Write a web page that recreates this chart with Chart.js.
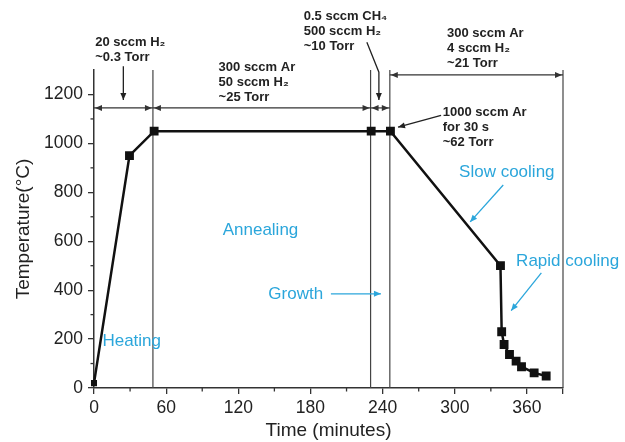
<!DOCTYPE html>
<html>
<head>
<meta charset="utf-8">
<script src="https://cdn.jsdelivr.net/npm/chart.js@4.4.0/dist/chart.umd.min.js"></script>
<style>
html, body { margin: 0; padding: 0; background: #fff; }
#caixa { width: 625px; height: 442px; }
</style>
</head>
<body>
<div id="caixa"><canvas id="perfil_temperatura"></canvas></div>
<script>
/* Perfil de temperatura do processo (tempo em minutos x temperatura em °C) */

const tempo_minutos = [0, 29.5, 50, 230.5, 246.5, 338, 339, 341, 345.5, 351, 355.5, 366, 376];
const temperatura_c = [20, 950, 1050, 1050, 1050, 500, 230, 178, 137, 110, 87, 62, 49];

const ticks_x_maiores = [0, 60, 120, 180, 240, 300, 360, 390];
const ticks_x_menores = [30, 90, 150, 210, 270, 330];
const ticks_y_maiores = [0, 200, 400, 600, 800, 1000, 1200];
const ticks_y_menores = [100, 300, 500, 700, 900, 1100];

const limites_etapas = [49, 230, 246, 390];

const cor_texto = '#222';
const cor_ciano = '#2ba6db';

/* anotações em coordenadas de dados */
const cotas = [
    { x0: 0, x1: 49, y: 1145 },
    { x0: 49, x1: 230, y: 1145 },
    { x0: 230, x1: 246, y: 1145 },
    { x0: 246, x1: 390, y: 1280 },
];

const textos_pretos = [
    { linhas: ['20 sccm H₂', '~0.3 Torr'], x: 1, y: 1413 },
    { linhas: ['300 sccm Ar', '50 sccm H₂', '~25 Torr'], x: 103.6, y: 1311 },
    { linhas: ['0.5 sccm CH₄', '500 sccm H₂', '~10 Torr'], x: 174.4, y: 1518 },
    { linhas: ['300 sccm Ar', '4 sccm H₂', '~21 Torr'], x: 293.6, y: 1450 },
    { linhas: ['1000 sccm Ar', 'for 30 s', '~62 Torr'], x: 290, y: 1126 },
];

const textos_ciano = [
    { texto: 'Heating', x: 7, y: 190 },
    { texto: 'Annealing', x: 107, y: 646 },
    { texto: 'Growth', x: 145, y: 385 },
    { texto: 'Slow cooling', x: 303.6, y: 883 },
    { texto: 'Rapid cooling', x: 351, y: 516 },
];

const setas_pretas = [
    [[24.4, 1315], [24.4, 1177]],
    [[226.9, 1413], [236.9, 1291], [236.9, 1177]],
    [[288.6, 1115], [252.8, 1066]],
];

const setas_ciano = [
    [[197, 385], [238.6, 385]],
    [[340.3, 830], [312.8, 679]],
    [[372, 471], [346.9, 316]],
];

function seta(ctx, pts, cor) {
    ctx.save();
    ctx.strokeStyle = cor;
    ctx.fillStyle = cor;
    ctx.lineWidth = 1.3;
    ctx.beginPath();
    ctx.moveTo(pts[0][0], pts[0][1]);
    for (let i = 1; i < pts.length; i++) ctx.lineTo(pts[i][0], pts[i][1]);
    ctx.stroke();
    const [ax, ay] = pts[pts.length - 2];
    const [bx, by] = pts[pts.length - 1];
    ponta(ctx, ax, ay, bx, by);
    ctx.restore();
}

function ponta(ctx, ax, ay, bx, by) {
    const ang = Math.atan2(by - ay, bx - ax);
    const c = 7, l = 3;
    ctx.beginPath();
    ctx.moveTo(bx, by);
    ctx.lineTo(bx - c * Math.cos(ang) + l * Math.sin(ang), by - c * Math.sin(ang) - l * Math.cos(ang));
    ctx.lineTo(bx - c * Math.cos(ang) - l * Math.sin(ang), by - c * Math.sin(ang) + l * Math.cos(ang));
    ctx.closePath();
    ctx.fill();
}

const plugin_anotacoes = {
    id: 'anotacoes',
    beforeDatasetsDraw(chart) {
        const ctx = chart.ctx;
        const sx = chart.scales.x, sy = chart.scales.y;
        ctx.save();
        ctx.strokeStyle = '#444';
        ctx.lineWidth = 1.2;
        limites_etapas.forEach(t => {
            const px = sx.getPixelForValue(t);
            ctx.beginPath();
            ctx.moveTo(px, sy.getPixelForValue(0));
            ctx.lineTo(px, sy.getPixelForValue(1300));
            ctx.stroke();
        });
        /* ticks menores */
        ctx.strokeStyle = '#333';
        ctx.lineWidth = 1.3;
        const base = sy.getPixelForValue(0);
        ticks_x_menores.forEach(t => {
            const px = sx.getPixelForValue(t);
            ctx.beginPath();
            ctx.moveTo(px, base);
            ctx.lineTo(px, base + 3.5);
            ctx.stroke();
        });
        const esq = sx.getPixelForValue(0);
        ticks_y_menores.forEach(v => {
            const py = sy.getPixelForValue(v);
            ctx.beginPath();
            ctx.moveTo(esq, py);
            ctx.lineTo(esq - 3.5, py);
            ctx.stroke();
        });
        ctx.restore();
    },
    afterDatasetsDraw(chart) {
        const ctx = chart.ctx;
        const sx = chart.scales.x, sy = chart.scales.y;
        const P = p => [sx.getPixelForValue(p[0]), sy.getPixelForValue(p[1])];

        ctx.save();
        /* cotas com setas duplas */
        ctx.strokeStyle = '#333';
        ctx.fillStyle = '#333';
        ctx.lineWidth = 1.2;
        cotas.forEach(c => {
            const xa = sx.getPixelForValue(c.x0), xb = sx.getPixelForValue(c.x1);
            const py = sy.getPixelForValue(c.y);
            ctx.beginPath();
            ctx.moveTo(xa, py);
            ctx.lineTo(xb, py);
            ctx.stroke();
            ponta(ctx, xb - 10, py, xb - 1, py);
            ponta(ctx, xa + 10, py, xa + 1, py);
        });

        setas_pretas.forEach(s => seta(ctx, s.map(P), '#222'));
        setas_ciano.forEach(s => seta(ctx, s.map(P), cor_ciano));

        ctx.textAlign = 'left';
        ctx.textBaseline = 'middle';
        ctx.fillStyle = cor_texto;
        ctx.font = 'bold 13px "Liberation Sans", Arial, sans-serif';
        textos_pretos.forEach(t => {
            const [px, py] = P([t.x, t.y]);
            t.linhas.forEach((linha, i) => ctx.fillText(linha, px, py + i * 15));
        });

        ctx.fillStyle = cor_ciano;
        ctx.font = '17px "Liberation Sans", Arial, sans-serif';
        textos_ciano.forEach(t => {
            const [px, py] = P([t.x, t.y]);
            ctx.fillText(t.texto, px, py);
        });
        ctx.restore();
    }
};

const dados_perfil = {
    datasets: [{
        label: 'Temperatura',
        data: tempo_minutos.map((t, i) => ({ x: t, y: temperatura_c[i] })),
        borderColor: '#111',
        backgroundColor: '#111',
        borderWidth: 2.5,
        pointStyle: 'rect',
        pointRadius: [2.5, 4.5, 4.5, 4.5, 4.5, 4.5, 4.5, 4.5, 4.5, 4.5, 4.5, 4.5, 4.5],
        pointHoverRadius: 4.5,
        tension: 0,
        clip: false,
    }]
};

const config_perfil = {
    type: 'line',
    data: dados_perfil,
    plugins: [plugin_anotacoes],
    options: {
        responsive: true,
        maintainAspectRatio: false,
        animation: false,
        events: [],
        layout: { padding: { left: 0, top: 70, right: 62, bottom: 0 } },
        plugins: { legend: { display: false }, tooltip: { enabled: false } },
        scales: {
            x: {
                type: 'linear',
                min: 0,
                max: 390,
                afterBuildTicks: s => { s.ticks = ticks_x_maiores.map(v => ({ value: v })); },
                afterFit: s => { s.height = 54; },
                ticks: {
                    color: cor_texto,
                    font: { family: '"Liberation Sans", Arial, sans-serif', size: 17.5 },
                    padding: 4,
                    maxRotation: 0,
                    callback: v => (v % 60 === 0 ? String(v) : ''),
                },
                grid: { display: true, drawOnChartArea: false, drawTicks: true, tickLength: 6, color: '#333', lineWidth: 1.3 },
                border: { display: true, color: '#333', width: 1.5 },
                title: {
                    display: true,
                    text: 'Time (minutes)',
                    color: cor_texto,
                    font: { family: '"Liberation Sans", Arial, sans-serif', size: 19 },
                    padding: { top: 0, bottom: 0 },
                },
            },
            y: {
                type: 'linear',
                min: 0,
                max: 1300,
                afterBuildTicks: s => { s.ticks = ticks_y_maiores.map(v => ({ value: v })); },
                afterFit: s => { s.width = 94; },
                ticks: {
                    color: cor_texto,
                    font: { family: '"Liberation Sans", Arial, sans-serif', size: 17.5 },
                    padding: 5,
                    callback: v => String(v),
                },
                grid: { display: true, drawOnChartArea: false, drawTicks: true, tickLength: 6, color: '#333', lineWidth: 1.3 },
                border: { display: true, color: '#333', width: 1.5 },
                title: {
                    display: true,
                    text: 'Temperature(°C)',
                    color: cor_texto,
                    font: { family: '"Liberation Sans", Arial, sans-serif', size: 19 },
                    padding: { top: 12, bottom: 0 },
                },
            },
        },
    },
};

const grafico_perfil = new Chart(
    document.getElementById('perfil_temperatura'),
    config_perfil
);
</script>
</body>
</html>
